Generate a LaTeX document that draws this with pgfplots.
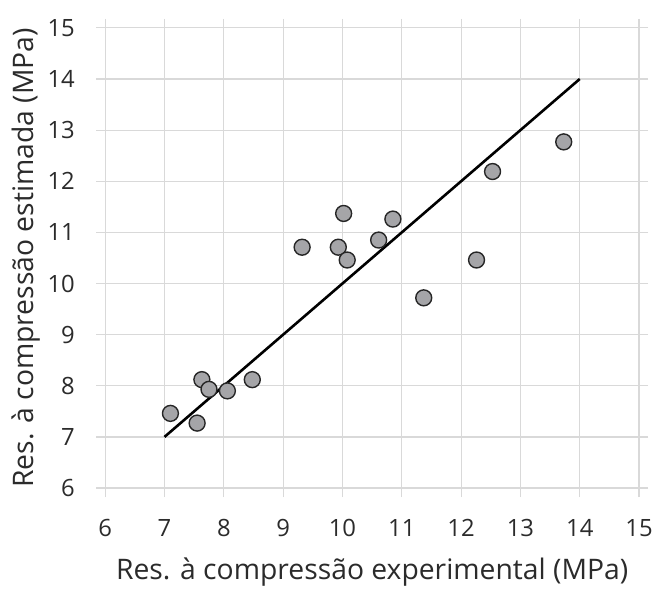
\documentclass[border={9bp 0bp 0bp 16bp}]{standalone}
\usepackage{pgfplots}
\pgfplotsset{compat=1.18}
\usepackage{fontspec}
\setmainfont{Open Sans}
\definecolor{gridgray}{HTML}{D9D9D9}
\definecolor{markgray}{HTML}{A5A5A8}
\definecolor{txt}{HTML}{2B2B2B}

\begin{document}
\begin{tikzpicture}
\begin{axis}[
    width=536bp, height=462bp,
    scale only axis,
    xmin=6, xmax=15, ymin=6, ymax=15,
    xtick={6,...,15}, ytick={6,...,15},
    grid=major,
    grid style={gridgray, line width=1.2bp},
    axis line style={gridgray, line width=1.2bp},
    tick align=outside,
    major tick length=9bp,
    tick style={gridgray, line width=1.2bp},
    tick label style={font=\fontsize{24}{28}\selectfont, text=txt},
    /pgf/number format/assume math mode=true,
    xticklabel style={yshift=-19bp},
    yticklabel style={xshift=-18bp},
    xlabel={Res. à compressão experimental (MPa)},
    ylabel={Res. à compressão estimada (MPa)},
    label style={font=\fontsize{28.5}{32}\selectfont, text=txt},
    xlabel style={yshift=-14bp},
    ylabel style={yshift=0bp},
]
\addplot[black, line width=2.6bp] coordinates {(7,7) (14,14)};
\addplot[only marks, mark=*, mark size=8bp,
    mark options={fill=markgray, draw=black!85, line width=1.4bp}] coordinates {
    (7.10,7.46) (7.55,7.27) (7.63,8.12) (7.75,7.93) (8.06,7.90) (8.48,8.12)
    (9.32,10.71) (9.93,10.71) (10.02,11.37) (10.08,10.46) (10.61,10.85)
    (10.85,11.26) (11.37,9.72) (12.26,10.46) (12.53,12.19) (13.73,12.77)
};
\end{axis}
\end{tikzpicture}
\end{document}
